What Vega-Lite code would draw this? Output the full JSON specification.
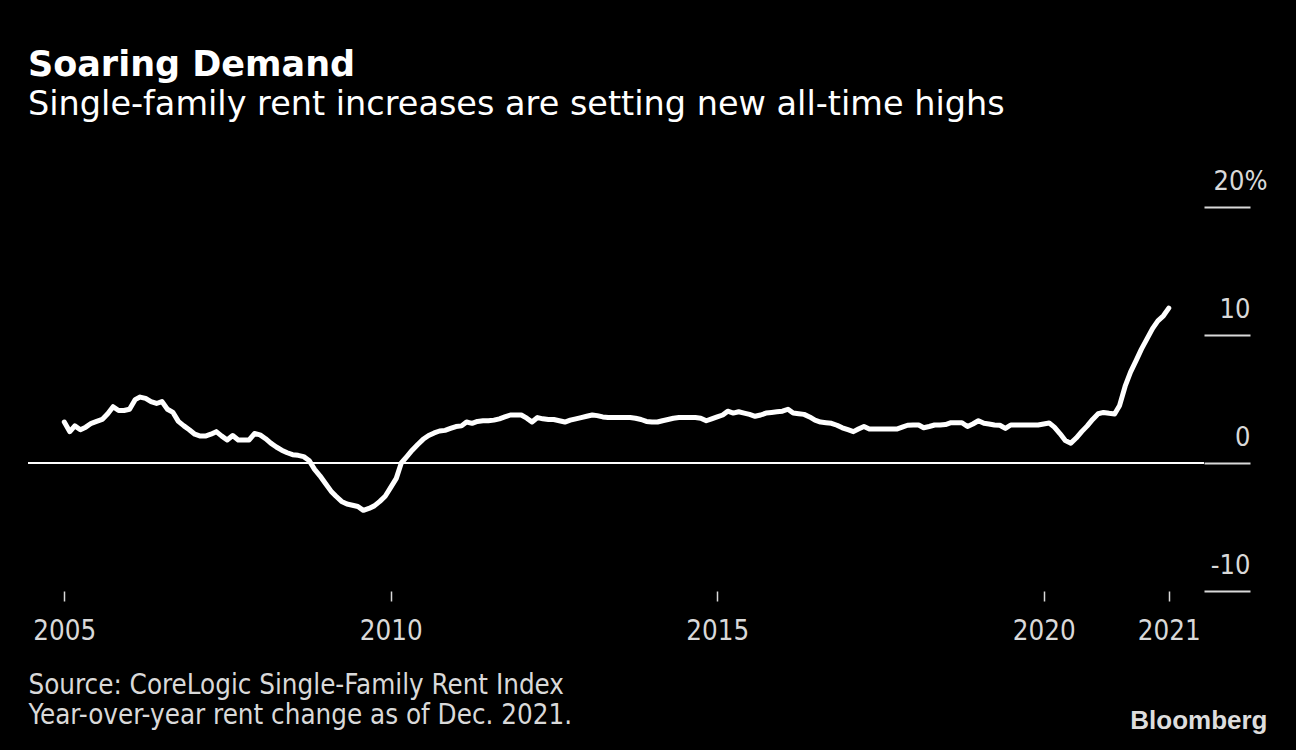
{
  "$schema": "https://vega.github.io/schema/vega-lite/v6.json",
  "width": 1176,
  "height": 384,
  "autosize": {"type": "none"},
  "padding": {"left": 28, "top": 207, "right": 92, "bottom": 159},
  "background": "#000000",
  "config": {"view": {"stroke": null}},
  "title": {
    "text": "Soaring Demand",
    "subtitle": "Single-family rent increases are setting new all-time highs",
    "anchor": "start",
    "frame": "group",
    "font": "DejaVu Sans",
    "fontSize": 35,
    "fontWeight": "bold",
    "color": "#ffffff",
    "subtitleFont": "DejaVu Sans",
    "subtitleFontSize": 33.5,
    "subtitleColor": "#ffffff",
    "subtitlePadding": 6,
    "offset": 46
  },
  "data": {
    "values": [
      {"date": "2005-01-01", "v": 3.2}, {"date": "2005-02-01", "v": 2.45}, {"date": "2005-03-01", "v": 2.9}, {"date": "2005-04-01", "v": 2.6},
      {"date": "2005-05-01", "v": 2.8}, {"date": "2005-06-01", "v": 3.1}, {"date": "2005-07-01", "v": 3.25}, {"date": "2005-08-01", "v": 3.4},
      {"date": "2005-09-01", "v": 3.85}, {"date": "2005-10-01", "v": 4.4}, {"date": "2005-11-01", "v": 4.1}, {"date": "2005-12-01", "v": 4.1},
      {"date": "2006-01-01", "v": 4.2}, {"date": "2006-02-01", "v": 4.95}, {"date": "2006-03-01", "v": 5.15}, {"date": "2006-04-01", "v": 5.05},
      {"date": "2006-05-01", "v": 4.8}, {"date": "2006-06-01", "v": 4.65}, {"date": "2006-07-01", "v": 4.8}, {"date": "2006-08-01", "v": 4.2},
      {"date": "2006-09-01", "v": 3.95}, {"date": "2006-10-01", "v": 3.25}, {"date": "2006-11-01", "v": 2.9}, {"date": "2006-12-01", "v": 2.6},
      {"date": "2007-01-01", "v": 2.25}, {"date": "2007-02-01", "v": 2.1}, {"date": "2007-03-01", "v": 2.1}, {"date": "2007-04-01", "v": 2.25},
      {"date": "2007-05-01", "v": 2.45}, {"date": "2007-06-01", "v": 2.1}, {"date": "2007-07-01", "v": 1.8}, {"date": "2007-08-01", "v": 2.15},
      {"date": "2007-09-01", "v": 1.8}, {"date": "2007-10-01", "v": 1.8}, {"date": "2007-11-01", "v": 1.8}, {"date": "2007-12-01", "v": 2.3},
      {"date": "2008-01-01", "v": 2.2}, {"date": "2008-02-01", "v": 1.9}, {"date": "2008-03-01", "v": 1.55}, {"date": "2008-04-01", "v": 1.25},
      {"date": "2008-05-01", "v": 1.0}, {"date": "2008-06-01", "v": 0.8}, {"date": "2008-07-01", "v": 0.65}, {"date": "2008-08-01", "v": 0.6},
      {"date": "2008-09-01", "v": 0.5}, {"date": "2008-10-01", "v": 0.2}, {"date": "2008-11-01", "v": -0.5}, {"date": "2008-12-01", "v": -1.0},
      {"date": "2009-01-01", "v": -1.6}, {"date": "2009-02-01", "v": -2.2}, {"date": "2009-03-01", "v": -2.6}, {"date": "2009-04-01", "v": -3.0},
      {"date": "2009-05-01", "v": -3.2}, {"date": "2009-06-01", "v": -3.3}, {"date": "2009-07-01", "v": -3.4}, {"date": "2009-08-01", "v": -3.7},
      {"date": "2009-09-01", "v": -3.55}, {"date": "2009-10-01", "v": -3.35}, {"date": "2009-11-01", "v": -3.0}, {"date": "2009-12-01", "v": -2.6},
      {"date": "2010-01-01", "v": -1.9}, {"date": "2010-02-01", "v": -1.2}, {"date": "2010-03-01", "v": 0.0}, {"date": "2010-04-01", "v": 0.5},
      {"date": "2010-05-01", "v": 1.0}, {"date": "2010-06-01", "v": 1.45}, {"date": "2010-07-01", "v": 1.85}, {"date": "2010-08-01", "v": 2.15},
      {"date": "2010-09-01", "v": 2.35}, {"date": "2010-10-01", "v": 2.5}, {"date": "2010-11-01", "v": 2.55}, {"date": "2010-12-01", "v": 2.7},
      {"date": "2011-01-01", "v": 2.85}, {"date": "2011-02-01", "v": 2.9}, {"date": "2011-03-01", "v": 3.2}, {"date": "2011-04-01", "v": 3.1},
      {"date": "2011-05-01", "v": 3.25}, {"date": "2011-06-01", "v": 3.3}, {"date": "2011-07-01", "v": 3.3}, {"date": "2011-08-01", "v": 3.35},
      {"date": "2011-09-01", "v": 3.45}, {"date": "2011-10-01", "v": 3.6}, {"date": "2011-11-01", "v": 3.75}, {"date": "2011-12-01", "v": 3.75},
      {"date": "2012-01-01", "v": 3.75}, {"date": "2012-02-01", "v": 3.5}, {"date": "2012-03-01", "v": 3.2}, {"date": "2012-04-01", "v": 3.55},
      {"date": "2012-05-01", "v": 3.45}, {"date": "2012-06-01", "v": 3.4}, {"date": "2012-07-01", "v": 3.4}, {"date": "2012-08-01", "v": 3.3},
      {"date": "2012-09-01", "v": 3.2}, {"date": "2012-10-01", "v": 3.35}, {"date": "2012-11-01", "v": 3.45}, {"date": "2012-12-01", "v": 3.55},
      {"date": "2013-01-01", "v": 3.65}, {"date": "2013-02-01", "v": 3.75}, {"date": "2013-03-01", "v": 3.7}, {"date": "2013-04-01", "v": 3.6},
      {"date": "2013-05-01", "v": 3.55}, {"date": "2013-06-01", "v": 3.55}, {"date": "2013-07-01", "v": 3.55}, {"date": "2013-08-01", "v": 3.55},
      {"date": "2013-09-01", "v": 3.55}, {"date": "2013-10-01", "v": 3.5}, {"date": "2013-11-01", "v": 3.4}, {"date": "2013-12-01", "v": 3.25},
      {"date": "2014-01-01", "v": 3.2}, {"date": "2014-02-01", "v": 3.2}, {"date": "2014-03-01", "v": 3.3}, {"date": "2014-04-01", "v": 3.4},
      {"date": "2014-05-01", "v": 3.5}, {"date": "2014-06-01", "v": 3.55}, {"date": "2014-07-01", "v": 3.55}, {"date": "2014-08-01", "v": 3.55},
      {"date": "2014-09-01", "v": 3.55}, {"date": "2014-10-01", "v": 3.5}, {"date": "2014-11-01", "v": 3.3}, {"date": "2014-12-01", "v": 3.45},
      {"date": "2015-01-01", "v": 3.6}, {"date": "2015-02-01", "v": 3.75}, {"date": "2015-03-01", "v": 4.05}, {"date": "2015-04-01", "v": 3.9},
      {"date": "2015-05-01", "v": 4.0}, {"date": "2015-06-01", "v": 3.9}, {"date": "2015-07-01", "v": 3.8}, {"date": "2015-08-01", "v": 3.65},
      {"date": "2015-09-01", "v": 3.75}, {"date": "2015-10-01", "v": 3.9}, {"date": "2015-11-01", "v": 3.95}, {"date": "2015-12-01", "v": 4.0},
      {"date": "2016-01-01", "v": 4.05}, {"date": "2016-02-01", "v": 4.2}, {"date": "2016-03-01", "v": 3.9}, {"date": "2016-04-01", "v": 3.85},
      {"date": "2016-05-01", "v": 3.8}, {"date": "2016-06-01", "v": 3.6}, {"date": "2016-07-01", "v": 3.35}, {"date": "2016-08-01", "v": 3.2},
      {"date": "2016-09-01", "v": 3.15}, {"date": "2016-10-01", "v": 3.1}, {"date": "2016-11-01", "v": 2.95}, {"date": "2016-12-01", "v": 2.75},
      {"date": "2017-01-01", "v": 2.6}, {"date": "2017-02-01", "v": 2.45}, {"date": "2017-03-01", "v": 2.65}, {"date": "2017-04-01", "v": 2.85},
      {"date": "2017-05-01", "v": 2.65}, {"date": "2017-06-01", "v": 2.65}, {"date": "2017-07-01", "v": 2.65}, {"date": "2017-08-01", "v": 2.65},
      {"date": "2017-09-01", "v": 2.65}, {"date": "2017-10-01", "v": 2.65}, {"date": "2017-11-01", "v": 2.8}, {"date": "2017-12-01", "v": 2.95},
      {"date": "2018-01-01", "v": 2.97}, {"date": "2018-02-01", "v": 2.97}, {"date": "2018-03-01", "v": 2.75}, {"date": "2018-04-01", "v": 2.85},
      {"date": "2018-05-01", "v": 2.97}, {"date": "2018-06-01", "v": 2.97}, {"date": "2018-07-01", "v": 3.0}, {"date": "2018-08-01", "v": 3.15},
      {"date": "2018-09-01", "v": 3.15}, {"date": "2018-10-01", "v": 3.15}, {"date": "2018-11-01", "v": 2.85}, {"date": "2018-12-01", "v": 3.05},
      {"date": "2019-01-01", "v": 3.3}, {"date": "2019-02-01", "v": 3.1}, {"date": "2019-03-01", "v": 3.05}, {"date": "2019-04-01", "v": 2.97},
      {"date": "2019-05-01", "v": 2.95}, {"date": "2019-06-01", "v": 2.7}, {"date": "2019-07-01", "v": 2.97}, {"date": "2019-08-01", "v": 2.97},
      {"date": "2019-09-01", "v": 2.97}, {"date": "2019-10-01", "v": 2.97}, {"date": "2019-11-01", "v": 2.97}, {"date": "2019-12-01", "v": 2.97},
      {"date": "2020-01-01", "v": 3.05}, {"date": "2020-02-01", "v": 3.12}, {"date": "2020-03-01", "v": 2.8}, {"date": "2020-04-01", "v": 2.3},
      {"date": "2020-05-01", "v": 1.75}, {"date": "2020-06-01", "v": 1.55}, {"date": "2020-07-01", "v": 1.95}, {"date": "2020-08-01", "v": 2.45},
      {"date": "2020-09-01", "v": 2.9}, {"date": "2020-10-01", "v": 3.4}, {"date": "2020-11-01", "v": 3.85}, {"date": "2020-12-01", "v": 3.95},
      {"date": "2021-01-01", "v": 3.88}, {"date": "2021-02-01", "v": 3.83}, {"date": "2021-03-01", "v": 4.5}, {"date": "2021-04-01", "v": 6.0},
      {"date": "2021-05-01", "v": 7.1}, {"date": "2021-06-01", "v": 8.0}, {"date": "2021-07-01", "v": 8.9}, {"date": "2021-08-01", "v": 9.7},
      {"date": "2021-09-01", "v": 10.5}, {"date": "2021-10-01", "v": 11.1}, {"date": "2021-11-01", "v": 11.5}, {"date": "2021-12-01", "v": 12.1}
    ]
  },
  "layer": [
    {
      "mark": {"type": "rule", "color": "#ffffff", "strokeWidth": 2},
      "encoding": {"y": {"datum": 0, "type": "quantitative"}}
    },
    {
      "mark": {"type": "line", "color": "#ffffff", "strokeWidth": 5, "strokeCap": "round", "strokeJoin": "round"},
      "encoding": {
        "x": {
          "field": "date",
          "type": "temporal",
          "scale": {
            "type": "utc",
            "domain": [
              {"year": 2004, "month": 6, "date": 12, "utc": true},
              {"year": 2022, "month": 6, "date": 16, "utc": true}
            ]
          },
          "axis": {
            "values": [
              {"year": 2005, "month": 1, "date": 1, "utc": true},
              {"year": 2010, "month": 1, "date": 1, "utc": true},
              {"year": 2015, "month": 1, "date": 1, "utc": true},
              {"year": 2020, "month": 1, "date": 1, "utc": true},
              {"year": 2021, "month": 12, "date": 1, "utc": true}
            ],
            "labelExpr": "utcFormat(datum.value, '%Y')",
            "domain": false,
            "grid": false,
            "ticks": true,
            "tickSize": 10,
            "tickWidth": 1.5,
            "tickColor": "#d9d9d9",
            "labelFont": "DejaVu Sans Condensed",
            "labelFontSize": 27.5,
            "labelColor": "#d9d9d9",
            "labelPadding": 16,
            "labelFlush": false,
            "labelOverlap": false,
            "title": ["Source: CoreLogic Single-Family Rent Index", "Year-over-year rent change as of Dec. 2021."],
            "titleFont": "DejaVu Sans Condensed",
            "titleFontSize": 27.5,
            "titleFontWeight": "normal",
            "titleColor": "#d9d9d9",
            "titleAlign": "left",
            "titleBaseline": "alphabetic",
            "titleAngle": 0,
            "titleX": 0,
            "titleY": 102,
            "titleLineHeight": 30
          }
        },
        "y": {
          "field": "v",
          "type": "quantitative",
          "scale": {"domain": [-10, 20], "nice": false, "zero": false},
          "axis": {
            "orient": "right",
            "values": [-10, 0, 10, 20],
            "labelExpr": "datum.value == 20 ? '20%' : '' + datum.value",
            "domain": false,
            "grid": false,
            "ticks": true,
            "tickSize": 46,
            "tickWidth": 2,
            "tickColor": "#d9d9d9",
            "labelFont": "DejaVu Sans Condensed",
            "labelFontSize": 27,
            "labelColor": "#d9d9d9",
            "labelAlign": "right",
            "labelBaseline": "alphabetic",
            "labelOffset": -18,
            "labelPadding": {"condition": {"test": "datum.value == 20", "value": 17}, "value": 0},
            "labelFlush": false,
            "labelOverlap": false,
            "title": "Bloomberg",
            "titleFont": "Liberation Sans",
            "titleFontSize": 26,
            "titleFontWeight": "bold",
            "titleColor": "#dddddd",
            "titleAngle": 0,
            "titleAlign": "right",
            "titleBaseline": "alphabetic",
            "titleX": 63,
            "titleY": 521
          }
        }
      }
    }
  ]
}
